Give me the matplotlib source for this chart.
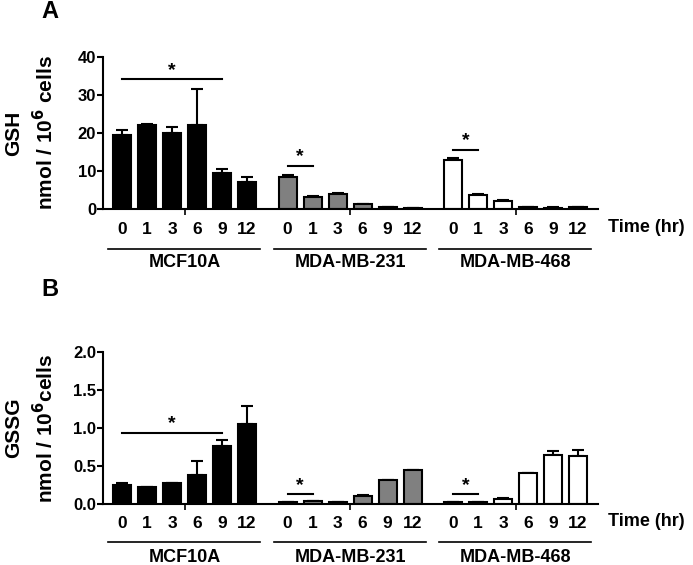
import numpy as np
import matplotlib
matplotlib.use("Agg")
import matplotlib.pyplot as plt
from matplotlib.transforms import blended_transform_factory

plt.rcParams['font.family'] = ['Liberation Sans', 'DejaVu Sans']
plt.rcParams['font.weight'] = 'bold'

cell_lines = ["MCF10A", "MDA-MB-231", "MDA-MB-468"]
times = ["0", "1", "3", "6", "9", "12"]
colors = ["black", "#808080", "white"]

# GSH (nmol / 10^6 cells), mean and upper error
gsh_mcf10a = [19.6, 22.2, 20.0, 22.2, 9.4, 7.2]
gsh_mcf10a_err = [1.1, 0.1, 1.7, 9.3, 1.0, 1.2]
gsh_231 = [8.5, 3.1, 4.0, 1.2, 0.4, 0.3]
gsh_231_err = [0.5, 0.3, 0.3, 0.2, 0.05, 0.05]
gsh_468 = [13.0, 3.8, 2.1, 0.5, 0.35, 0.5]
gsh_468_err = [0.5, 0.1, 0.4, 0.05, 0.05, 0.05]

# GSSG (nmol / 10^6 cells)
gssg_mcf10a = [0.245, 0.22, 0.275, 0.385, 0.76, 1.05]
gssg_mcf10a_err = [0.025, 0.0, 0.0, 0.18, 0.08, 0.24]
gssg_231 = [0.02, 0.04, 0.03, 0.11, 0.31, 0.45]
gssg_231_err = [0.0, 0.0, 0.0, 0.005, 0.01, 0.0]
gssg_468 = [0.02, 0.03, 0.07, 0.41, 0.64, 0.63]
gssg_468_err = [0.0, 0.0, 0.015, 0.0, 0.06, 0.08]

# significance brackets: (group, first bar, last bar, height)
gsh_sig = [(0, 0, 4, 34.1), (1, 0, 1, 11.4), (2, 0, 1, 15.5)]
gssg_sig = [(0, 0, 4, 0.94), (1, 0, 1, 0.127), (2, 0, 1, 0.127)]

group_step = 6.62
bar_w = 0.72


def draw_panel(ax, groups, errs, sig, ymax, yticks, ytickfmt, ylabel, line_y, lab_y, star_off):
    trans = blended_transform_factory(ax.transData, ax.transAxes)
    xt = []
    for g, (vals, err) in enumerate(zip(groups, errs)):
        x = np.arange(len(vals)) + g * group_step
        xt.extend(x)
        ax.bar(x, vals, width=bar_w, color=colors[g], edgecolor="black", linewidth=1.5, zorder=2)
        ax.errorbar(x, vals, yerr=[np.zeros(len(err)), err], fmt="none", ecolor="black",
                    elinewidth=1.5, capsize=4, capthick=1.5, zorder=1)
        ax.plot([x[0] - 0.56, x[-1] + 0.52], [line_y, line_y], color="black", lw=1.2,
                transform=trans, clip_on=False)
        ax.text(x.mean(), lab_y, cell_lines[g], transform=trans, ha="center", va="center",
                fontsize=13, fontweight="bold")
    for g, a, b, h in sig:
        x0 = a + g * group_step
        x1 = b + g * group_step
        ax.plot([x0, x1], [h, h], color="black", lw=1.5)
        ax.text((x0 + x1) / 2, h + star_off, "*", ha="center", va="center",
                fontsize=14, fontweight="bold")
    ax.set_xticks(xt)
    ax.set_xticklabels(times * 3, fontsize=12.5, fontweight="bold")
    ax.tick_params(axis="x", length=0, pad=9)
    ax.set_xticks([2.5 + g * group_step for g in range(3)], minor=True)
    ax.tick_params(axis="x", which="minor", length=4, width=1.2, direction="out")
    ax.set_xlim(-0.76, 19.04)
    ax.set_ylim(0, ymax)
    ax.set_yticks(yticks)
    ax.set_yticklabels([ytickfmt.format(v) for v in yticks], fontsize=12, fontweight="bold")
    ax.tick_params(axis="y", length=4, width=1.5, pad=1)
    for s in ["top", "right"]:
        ax.spines[s].set_visible(False)
    for s in ["left", "bottom"]:
        ax.spines[s].set_linewidth(1.5)
    ax.set_ylabel(ylabel, fontsize=15, fontweight="bold", linespacing=1.4)
    ax.yaxis.set_label_coords(-0.093, 0.5)


fig = plt.figure(figsize=(6.93, 5.65), dpi=100)
axA = fig.add_axes([103 / 693, 1 - 209 / 565, 495 / 693, 152 / 565])
axB = fig.add_axes([103 / 693, 1 - 504 / 565, 495 / 693, 152 / 565])

draw_panel(axA, [gsh_mcf10a, gsh_231, gsh_468], [gsh_mcf10a_err, gsh_231_err, gsh_468_err],
           gsh_sig, 40, [0, 10, 20, 30, 40], "{:.0f}", "GSH\nnmol / 10$^\\mathbf{6}$ cells",
           -0.263, -0.35, 2.4)
draw_panel(axB, [gssg_mcf10a, gssg_231, gssg_468], [gssg_mcf10a_err, gssg_231_err, gssg_468_err],
           gssg_sig, 2.0, [0.0, 0.5, 1.0, 1.5, 2.0], "{:.1f}", "GSSG\nnmol / 10$^\\mathbf{6}$cells",
           -0.25, -0.35, 0.12)

fig.text(608 / 693, 1 - 228 / 565, "Time (hr)", ha="left", va="center", fontsize=13, fontweight="bold")
fig.text(608 / 693, 1 - 522 / 565, "Time (hr)", ha="left", va="center", fontsize=13, fontweight="bold")
fig.text(50 / 693, 1 - 12 / 565, "A", ha="center", va="center", fontsize=17, fontweight="bold")
fig.text(50 / 693, 1 - 290 / 565, "B", ha="center", va="center", fontsize=17, fontweight="bold")

fig.savefig("out.png", dpi=100)
